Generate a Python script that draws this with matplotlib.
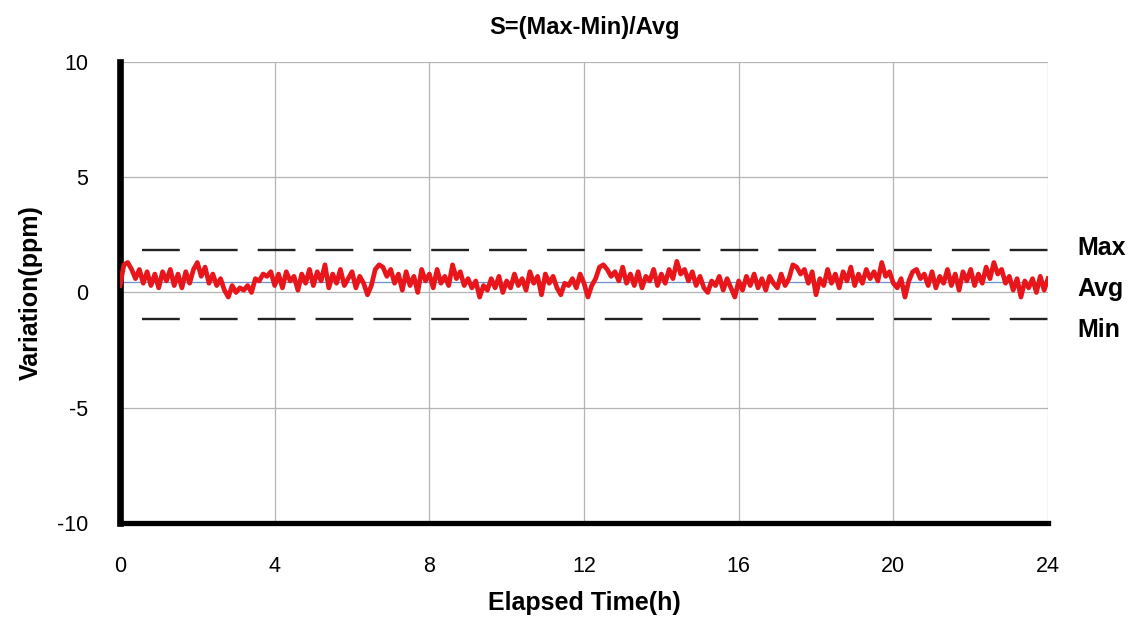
import numpy as np
import matplotlib
matplotlib.use("Agg")
import matplotlib.pyplot as plt

# ────────────────────────────────────────────────────────────
# DATA (0.1 h steps)
# ────────────────────────────────────────────────────────────

variation = [
    0.3, 1.2, 1.3, 1.0, 0.6, 1.0, 0.4, 0.9, 0.3, 0.8,
    0.2, 0.9, 0.5, 1.0, 0.3, 0.8, 0.2, 0.9, 0.4, 1.0,
    1.3, 0.7, 1.1, 0.4, 0.8, 0.3, 0.6, 0.1, -0.2, 0.3,
    0.0, 0.2, 0.1, 0.3, 0.0, 0.6, 0.5, 0.8, 0.7, 0.9,
    0.3, 0.8, 0.2, 0.9, 0.5, 0.7, 0.1, 0.8, 0.4, 1.0,
    0.3, 0.9, 0.5, 1.2, 0.2, 0.8, 0.4, 1.0, 0.3, 0.6,
    0.9, 0.2, 0.7, 0.4, -0.1, 0.3, 1.0, 1.2, 1.1, 0.7,
    1.0, 0.4, 0.8, 0.1, 0.9, 0.3, 0.7, 0.0, 1.0, 0.5,
    0.8, 0.2, 1.0, 0.4, 0.7, 0.3, 1.2, 0.6, 0.9, 0.3,
    0.6, 0.2, 0.5, -0.2, 0.3, 0.1, 0.6, 0.2, 0.7, 0.0,
    0.5, 0.2, 0.8, 0.3, 0.6, 0.1, 0.9, 0.4, 0.7, -0.1,
    0.8, 0.4, 0.7, 0.2, -0.1, 0.4, 0.3, 0.6, 0.2, 0.8,
    0.4, -0.2, 0.3, 0.6, 1.1, 1.2, 1.0, 0.7, 0.9, 0.5,
    1.1, 0.4, 0.8, 0.3, 0.9, 0.2, 0.7, 0.5, 1.0, 0.3,
    0.8, 0.4, 1.0, 0.6, 1.35, 0.8, 1.0, 0.5, 0.9, 0.3,
    0.7, 0.2, 0.0, 0.5, 0.3, 0.7, 0.1, 0.6, 0.2, -0.2,
    0.5, 0.1, 0.7, 0.3, 0.8, 0.2, 0.6, 0.1, 0.7, 0.4,
    0.2, 0.8, 0.3, 0.6, 1.2, 1.1, 0.8, 1.0, 0.4, 0.9,
    -0.1, 0.6, 0.3, 1.0, 0.4, 0.8, 0.2, 0.9, 0.5, 1.1,
    0.3, 0.8, 0.4, 1.0, 0.6, 0.9, 0.5, 1.3, 0.7, 0.9,
    0.4, 0.2, 0.6, -0.2, 0.5, 0.9, 1.0, 0.6, 0.8, 0.3,
    0.9, 0.2, 0.7, 0.4, 1.0, 0.3, 0.8, 0.1, 0.9, 0.5,
    1.0, 0.3, 0.8, 0.4, 1.1, 0.6, 1.3, 0.8, 1.0, 0.4,
    0.7, 0.1, 0.6, -0.2, 0.5, 0.2, 0.6, 0.0, 0.7, 0.1,
    0.6,
]
elapsed = np.linspace(0, 24, len(variation))

max_level = 1.85
avg_level = 0.45
min_level = -1.14
ref_start = 0.57  # dashed lines start a bit right of the axis

x_ticks = [0, 4, 8, 12, 16, 20, 24]
y_ticks = [-10, -5, 0, 5, 10]

# ────────────────────────────────────────────────────────────
# PLOT
# ────────────────────────────────────────────────────────────

plt.rcParams["font.family"] = ["Liberation Sans", "DejaVu Sans"]
plt.rcParams["axes.unicode_minus"] = False

fig = plt.figure(figsize=(11.41, 6.19), dpi=100)
ax = fig.add_axes([0.1052, 0.155, 0.8133, 0.745])

ax.set_xlim(0, 24)
ax.set_ylim(-10, 10)
ax.set_xticks(x_ticks)
ax.set_yticks(y_ticks)
ax.tick_params(length=0, labelsize=15.5)
ax.tick_params(axis="x", pad=24)
ax.tick_params(axis="y", pad=23)

ax.grid(color="#b4b4b4", linewidth=0.9)
ax.set_axisbelow(True)

for side in ["top", "right"]:
    ax.spines[side].set_visible(False)
ax.spines["left"].set_linewidth(4.8)
ax.spines["bottom"].set_linewidth(3.8)

# avg reference (thin blue)
ax.plot([0, 24], [avg_level, avg_level], color="#6f8fc8", linewidth=0.9, zorder=2)

# max / min dashed
for lvl in [max_level, min_level]:
    ax.plot(
        [ref_start, 24],
        [lvl, lvl],
        color="#222222",
        linewidth=1.7,
        linestyle=(0, (16, 8.5)),
        zorder=3
    )

ax.plot(elapsed, variation, color="#e8161b", linewidth=3.4, zorder=4)

ax.set_title("S=(Max-Min)/Avg", fontsize=17, fontweight="bold", pad=20)
ax.set_xlabel("Elapsed Time(h)", fontsize=18, fontweight="bold", labelpad=10)
ax.set_ylabel("Variation(ppm)", fontsize=18, fontweight="bold", labelpad=10)

# right-hand labels
for lvl, txt in [(max_level + 0.1, "Max"), (avg_level - 0.3, "Avg"), (min_level - 0.5, "Min")]:
    ax.text(24.75, lvl, txt, fontsize=18, fontweight="bold", va="center", ha="left",
            clip_on=False)

fig.savefig("out.png", dpi=100)
